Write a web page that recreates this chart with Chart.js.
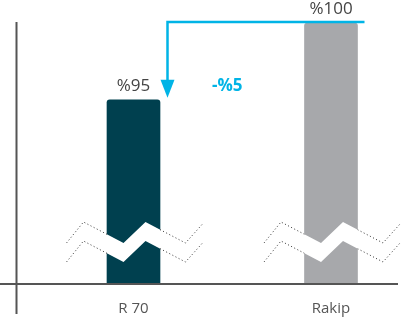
<!DOCTYPE html>
<html>
<head>
<meta charset="utf-8">
<script src="https://cdn.jsdelivr.net/npm/chart.js@4"></script>
<style>
  html, body { margin: 0; padding: 0; background: #fff; }
  canvas { display: block; }
</style>
</head>
<body>
<canvas id="chart" width="412" height="322"></canvas>
<script>
// chart data
const categories  = ['R 70', 'Rakip'];
const shares      = [95, 100];
const valueLabels = ['%95', '%100'];
const diffLabel   = '-%5';
const barColors   = ['#00404f', '#a7a8ab'];

// the value axis is cut, bars start here
const Y_MIN = 83;
const Y_MAX = 100;

const FONT = "'Open Sans', 'Noto Sans', sans-serif";
const BLUE = '#00b4e6';

// zigzag of the axis break, offsets from the bar centre / chart bottom
const zig = [[-67, -41], [-50, -62], [-10, -41], [12, -62], [52, -41], [69, -60]];
const BAND = 19;

const overlay = {
  id: 'overlay',
  afterDatasetsDraw(chart) {
    const ctx = chart.ctx;
    const area = chart.chartArea;
    const y = chart.scales.y;
    const bars = chart.getDatasetMeta(0).data;

    ctx.save();
    // axis lines
    ctx.strokeStyle = '#555';
    ctx.lineWidth = 2;
    ctx.beginPath();
    ctx.moveTo(0, area.bottom);
    ctx.lineTo(398, area.bottom);
    ctx.moveTo(16.5, area.top - 1);
    ctx.lineTo(16.5, area.bottom + 30);
    ctx.stroke();

    // axis breaks
    bars.forEach(bar => {
      const pts = zig.map(p => [bar.x + p[0], area.bottom + p[1]]);
      ctx.fillStyle = '#fff';
      ctx.beginPath();
      pts.forEach((p, i) => i ? ctx.lineTo(p[0], p[1]) : ctx.moveTo(p[0], p[1]));
      for (let i = pts.length - 1; i >= 0; i--) ctx.lineTo(pts[i][0], pts[i][1] + BAND);
      ctx.closePath();
      ctx.fill();

      // dotted edges only outside the bar
      ctx.save();
      ctx.beginPath();
      ctx.rect(0, 0, chart.width, chart.height);
      ctx.rect(bar.x - bar.width / 2, area.top - 5, bar.width, area.bottom);
      ctx.clip('evenodd');
      ctx.strokeStyle = '#333';
      ctx.lineWidth = 1;
      ctx.setLineDash([1, 2.5]);
      [0, BAND].forEach(off => {
        ctx.beginPath();
        pts.forEach((p, i) => i ? ctx.lineTo(p[0], p[1] + off) : ctx.moveTo(p[0], p[1] + off));
        ctx.stroke();
      });
      ctx.restore();
    });

    // value labels
    ctx.fillStyle = '#444';
    ctx.font = '17px ' + FONT;
    ctx.textAlign = 'center';
    ctx.textBaseline = 'middle';
    bars.forEach((bar, i) => ctx.fillText(valueLabels[i], bar.x, bar.y - 14));

    // difference arrow
    const b1 = bars[0], b2 = bars[1];
    const ax = b1.x + b1.width / 2 + 7.5;
    const topY = y.getPixelForValue(shares[1]) - 1;
    const tipY = y.getPixelForValue(shares[0]) - 2;
    ctx.strokeStyle = BLUE;
    ctx.fillStyle = BLUE;
    ctx.lineWidth = 2.5;
    ctx.beginPath();
    ctx.moveTo(b2.x + b2.width / 2 + 7, topY);
    ctx.lineTo(ax, topY);
    ctx.lineTo(ax, tipY - 16);
    ctx.stroke();
    ctx.beginPath();
    ctx.moveTo(ax - 7, tipY - 18);
    ctx.lineTo(ax + 7, tipY - 18);
    ctx.lineTo(ax, tipY);
    ctx.closePath();
    ctx.fill();

    ctx.font = 'bold 17px ' + FONT;
    ctx.fillText(diffLabel, (b1.x + b2.x) / 2 - 5, b1.y - 14);
    ctx.restore();
  }
};

new Chart(document.getElementById('chart'), {
  type: 'bar',
  data: {
    labels: categories,
    datasets: [{
      data: shares,
      base: Y_MIN,
      backgroundColor: barColors,
      borderRadius: 3,
      barThickness: 53,
      clip: false
    }]
  },
  options: {
    responsive: false,
    animation: false,
    layout: { padding: { left: 133.5, right: 81, top: 23, bottom: 0 } },
    plugins: {
      legend: { display: false },
      tooltip: { enabled: false }
    },
    scales: {
      x: {
        offset: false,
        grid: { display: false, drawTicks: false },
        border: { display: false },
        ticks: { color: '#555', font: { family: FONT, size: 15 }, padding: 16 },
        afterFit: s => { s.height = 38; }
      },
      y: {
        display: false,
        min: Y_MIN,
        max: Y_MAX
      }
    }
  },
  plugins: [overlay]
});
</script>
</body>
</html>
